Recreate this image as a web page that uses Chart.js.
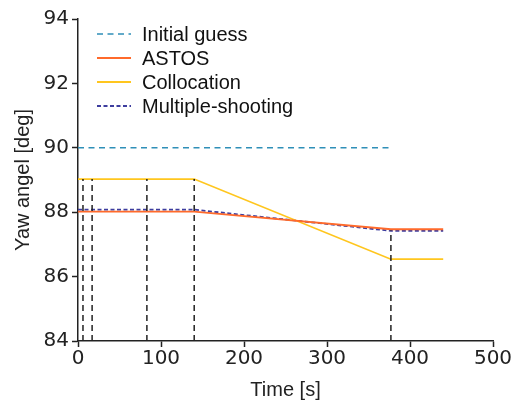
<!DOCTYPE html>
<html>
<head>
<meta charset="utf-8">
<script src="https://cdn.jsdelivr.net/npm/chart.js@4.4.1/dist/chart.umd.min.js"></script>
<style>
	html, body { margin: 0; padding: 0; background: #fff; }
	#wrap { width: 513px; height: 406px; }
</style>
</head>
<body>
<div id="wrap"><canvas id="chart" width="513" height="406"></canvas></div>
<script>
// Data
const guessTime = [0, 377]
const guessYaw = [90, 90]

const nodeTime = [0, 140, 377, 440]
const astosYaw = [88.02, 88.02, 87.47, 87.47]
const collocationYaw = [89.03, 89.03, 86.54, 86.54]
const multiShootYaw = [88.08, 88.08, 87.42, 87.42]

// Vertical dashed markers (time, top value)
const markerTime = [6, 17, 83, 140, 377]
const markerTop = [89.03, 89.03, 89.03, 89.03, 87.43]

const xTicks = [0, 100, 200, 300, 400, 500]
const yTicks = [84, 86, 88, 90, 92, 94]

const tickFont = { family: 'DejaVu Sans', size: 20 }
const titleFont = { family: 'Liberation Sans', size: 20 }

function pts(xs, ys) {
	return xs.map((x, i) => ({ x: x, y: ys[i] }))
}

var datasets = []

// Black dashed verticals first so the curves sit on top
markerTime.forEach((t, i) => {
	datasets.push({
		data: pts([t, t], [84, markerTop[i]]),
		borderColor: '#222',
		borderWidth: 1.5,
		borderDash: [6, 4],
		pointRadius: 0,
		showLine: true
	})
})

datasets.push({
	label: 'Initial guess',
	data: pts(guessTime, guessYaw),
	borderColor: '#2f8fb8',
	borderWidth: 1.5,
	borderDash: [6, 4.5],
	pointRadius: 0,
	showLine: true
})
datasets.push({
	label: 'ASTOS',
	data: pts(nodeTime, astosYaw),
	borderColor: '#ff6a2b',
	borderWidth: 1.8,
	pointRadius: 0,
	showLine: true
})
datasets.push({
	label: 'Collocation',
	data: pts(nodeTime, collocationYaw),
	borderColor: '#ffc61e',
	borderWidth: 1.8,
	pointRadius: 0,
	showLine: true
})
datasets.push({
	label: 'Multiple-shooting',
	data: pts(nodeTime, multiShootYaw),
	borderColor: '#3d3d9e',
	borderWidth: 1.8,
	borderDash: [4, 2.5],
	pointRadius: 0,
	showLine: true
})

// Legend drawn inside the plot, top left
const insideLegend = {
	id: 'insideLegend',
	afterDatasetsDraw(chart) {
		const ctx = chart.ctx
		var row = 0
		ctx.save()
		ctx.font = '20px "Liberation Sans"'
		ctx.textBaseline = 'middle'
		ctx.fillStyle = '#111'
		for (const ds of chart.data.datasets) {
			if (!ds.label) continue
			const y = 34 + row * 24
			ctx.strokeStyle = ds.borderColor
			ctx.lineWidth = ds.borderWidth
			ctx.setLineDash(ds.borderDash || [])
			ctx.beginPath()
			ctx.moveTo(97, y)
			ctx.lineTo(131, y)
			ctx.stroke()
			ctx.setLineDash([])
			ctx.fillText(ds.label, 142, y + 1)
			row++
		}
		ctx.restore()
	}
}

new Chart(document.getElementById('chart'), {
	type: 'scatter',
	data: { datasets: datasets },
	options: {
		responsive: false,
		devicePixelRatio: 1,
		animation: false,
		layout: { padding: { left: 7, right: 20, top: 19, bottom: 0 } },
		plugins: {
			legend: { display: false },
			tooltip: { enabled: false }
		},
		scales: {
			x: {
				type: 'linear',
				min: 0,
				max: 500,
				afterBuildTicks: (axis) => { axis.ticks = xTicks.map(v => ({ value: v })) },
				afterFit: (axis) => { axis.height = 65 },
				border: { color: '#222', width: 1.5 },
				grid: { drawOnChartArea: false, tickLength: 6, tickColor: '#222', tickWidth: 1.5 },
				ticks: { color: '#222', font: tickFont, padding: 0, maxRotation: 0 },
				title: { display: true, text: 'Time [s]', color: '#222', font: titleFont, padding: { top: 2 } }
			},
			y: {
				type: 'linear',
				min: 84,
				max: 94,
				afterBuildTicks: (axis) => { axis.ticks = yTicks.map(v => ({ value: v })) },
				afterFit: (axis) => { axis.width = 71 },
				border: { color: '#222', width: 1.5 },
				grid: { drawOnChartArea: false, tickLength: 6, tickColor: '#222', tickWidth: 1.5 },
				ticks: { color: '#222', font: tickFont, padding: 3 },
				title: { display: true, text: 'Yaw angel [deg]', color: '#222', font: titleFont, padding: { bottom: 4 } }
			}
		}
	},
	plugins: [insideLegend]
})
</script>
</body>
</html>
